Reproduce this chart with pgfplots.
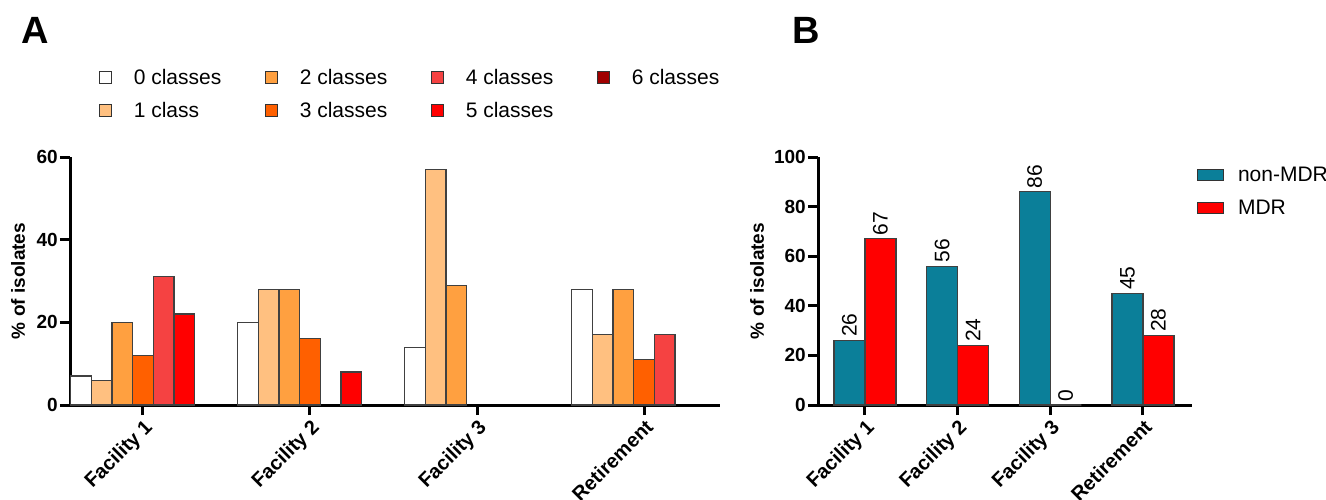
\documentclass[border=0pt]{standalone}
\usepackage{pgfplots}
\pgfplotsset{compat=1.18}
\usepackage{fontspec}
\setmainfont{Liberation Sans}
\definecolor{cz}{HTML}{FFFFFF}
\definecolor{ca}{HTML}{FFC080}
\definecolor{cb}{HTML}{FFA040}
\definecolor{cc}{HTML}{FF6000}
\definecolor{cd}{HTML}{F54242}
\definecolor{ce}{HTML}{FF0000}
\definecolor{cf}{HTML}{A00000}
\definecolor{nonmdr}{HTML}{0B7F99}
\definecolor{mdr}{HTML}{FF0000}
\newcommand{\tickfont}{\bfseries\fontsize{19}{19}\selectfont}
\newcommand{\xtickfont}{\bfseries\fontsize{20}{20}\selectfont}
\newcommand{\legfont}{\fontsize{21}{21}\selectfont}
\pgfplotsset{
  common/.style={
    scale only axis, height=248pt,
    ybar, ymin=0,
    axis x line=bottom, axis y line=left,
    axis line style={-, line width=3pt, black},
    tick align=outside, major tick length=10pt,
    major tick style={line width=3pt, black},
    xtick={0,1,2,3},
    xticklabels={Facility 1,Facility 2,Facility 3,Retirement},
    /pgf/number format/assume math mode=true,
    yticklabel style={font=\tickfont, inner sep=2pt},
    xticklabel style={font=\xtickfont, rotate=45, anchor=north east, inner sep=2pt},
    ylabel={\% of isolates},
    legend cell align=left,
    clip=false,
  },
  barst/.style={draw=black!75, line width=1.2pt},
}
\begin{document}
\begin{tikzpicture}
\useasboundingbox (0,0) rectangle (1326pt,499pt);
\node[font=\bfseries\fontsize{38}{38}\selectfont, anchor=base west, inner sep=0pt] at (21pt,455pt) {A};
\node[font=\bfseries\fontsize{38}{38}\selectfont, anchor=base west, inner sep=0pt] at (792pt,455pt) {B};
% Panel A
\begin{axis}[common,
  at={(70pt,94pt)}, anchor=south west,
  width=650pt,
  xmin=-0.437, xmax=3.455, ymax=60,
  ytick={0,20,40,60},
  bar width=20.7pt,
  ylabel style={font=\tickfont, at={(axis description cs:-0.08,0.5)}, anchor=center},
  legend columns=4,
  legend style={draw=none, fill=none, font=\legfont, at={(axis description cs:0.044,1.355)}, anchor=north west,
    inner sep=0pt, row sep=16pt, nodes={inner sep=0pt}},
  legend image code/.code={\draw[#1, draw=black!80, line width=1pt] (0pt,-6pt) rectangle (12pt,6pt);},
]
\addplot[barst, fill=cz, bar shift=-62.1pt] coordinates {(0,7) (1,20) (2,14) (3,28)};
\addlegendentry{\hspace*{22pt}\makebox[131pt][l]{0 classes}}
\addplot[barst, fill=cb, bar shift=-20.7pt] coordinates {(0,20) (1,28) (2,29) (3,28)};
\addlegendentry{\hspace*{22pt}\makebox[131pt][l]{2 classes}}
\addplot[barst, fill=cd, bar shift=20.7pt] coordinates {(0,31) (3,17)};
\addlegendentry{\hspace*{22pt}\makebox[131pt][l]{4 classes}}
\addlegendimage{barst, fill=cf}
\addlegendentry{\hspace*{22pt}\makebox[131pt][l]{6 classes}}
\addplot[barst, fill=ca, bar shift=-41.4pt] coordinates {(0,6) (1,28) (2,57) (3,17)};
\addlegendentry{\hspace*{22pt}\makebox[131pt][l]{1 class}}
\addplot[barst, fill=cc, bar shift=0pt] coordinates {(0,12) (1,16) (3,11)};
\addlegendentry{\hspace*{22pt}\makebox[131pt][l]{3 classes}}
\addplot[barst, fill=ce, bar shift=41.4pt] coordinates {(0,22) (1,8)};
\addlegendentry{\hspace*{22pt}\makebox[131pt][l]{5 classes}}
\end{axis}
% Panel B
\begin{axis}[common,
  at={(818pt,94pt)}, anchor=south west,
  width=374pt,
  xmin=-0.507, xmax=3.53, ymax=100,
  ytick={0,20,40,60,80,100},
  bar width=31pt,
  ylabel style={font=\tickfont, at={(axis description cs:-0.163,0.5)}, anchor=center},
  nodes near coords,
  nodes near coords style={rotate=90, anchor=west, font=\legfont, inner sep=3pt, black},
  legend style={draw=none, fill=none, font=\legfont, at={(axis description cs:1.013,0.96)}, anchor=north west,
    inner sep=0pt, row sep=17pt, nodes={inner sep=0pt}},
  legend image code/.code={\draw[#1, draw=black!80, line width=1pt] (0pt,-5.5pt) rectangle (26pt,5.5pt);},
]
\addplot[barst, fill=nonmdr, bar shift=-15.5pt] coordinates {(0,26) (1,56) (2,86) (3,45)};
\addlegendentry{\hspace*{14pt}non-MDR}
\addplot[barst, fill=mdr, bar shift=15.5pt] coordinates {(0,67) (1,24) (2,0) (3,28)};
\addlegendentry{\hspace*{14pt}MDR}
\end{axis}
\end{tikzpicture}
\end{document}
